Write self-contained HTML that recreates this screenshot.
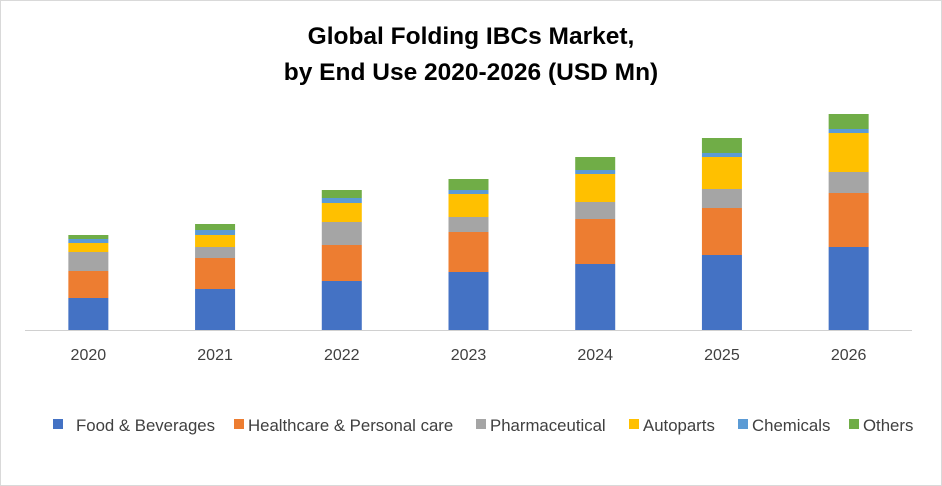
<!DOCTYPE html>
<html><head><meta charset="utf-8"><style>
html,body{margin:0;padding:0;background:#fff}
#wrap{position:relative;width:940px;height:484px;border:1px solid #d9d9d9;overflow:hidden;font-family:"Liberation Sans",sans-serif}
.title{position:absolute;left:0;width:940px;text-align:center;font-weight:bold;font-size:24.5px;color:#000}
</style></head><body>
<div id="wrap">
<div class="title" style="top:22px">Global Folding IBCs Market,</div>
<div class="title" style="top:58px">by End Use 2020-2026 (USD Mn)</div>
<svg id="svg" width="940" height="484" style="position:absolute;left:0;top:0"></svg>
</div>
<script>
const categories=["2020","2021","2022","2023","2024","2025","2026"];
const seriesNames=["Food & Beverages","Healthcare & Personal care","Pharmaceutical","Autoparts","Chemicals","Others"];
const food=[32,41,49,58,66,75,83];
const health=[27,31,36,40,45,47,54];
const pharma=[19,11,23,15,17,19,21];
const auto=[9,12,19,23,28,32,39];
const chem=[4,5,5,4,4,4,4];
const others=[4,6,8,11,13,15,15];
const series=[food,health,pharma,auto,chem,others];
const colors=["#4472c4","#ed7d31","#a5a5a5","#ffc000","#5b9bd5","#70ad47"];
const NS="http://www.w3.org/2000/svg";
const svg=document.getElementById('svg');
const baseY=329, x0=24, x1=911;
const band=(x1-x0)/categories.length;
const xC=i=>x0+band*(i+0.5);
const yS=v=>baseY-v;
const bw=40;
const axis=document.createElementNS(NS,'line');
axis.setAttribute('x1',x0);axis.setAttribute('x2',x1);axis.setAttribute('y1',baseY+0.5);axis.setAttribute('y2',baseY+0.5);
axis.setAttribute('stroke','#d0d0d0');axis.setAttribute('stroke-width','1');


svg.appendChild(axis);
categories.forEach((c,i)=>{
  let cum=0;
  series.forEach((s,k)=>{
    const r=document.createElementNS(NS,'rect');
    r.setAttribute('x',xC(i)-bw/2);r.setAttribute('width',bw);
    r.setAttribute('y',yS(cum+s[i]));r.setAttribute('height',s[i]);
    r.setAttribute('fill',colors[k]);
    
    
    svg.appendChild(r);
    cum+=s[i];
  });
  const t=document.createElementNS(NS,'text');
  t.setAttribute('x',xC(i));t.setAttribute('y',359);t.setAttribute('text-anchor','middle');
  t.setAttribute('font-size','16');t.setAttribute('fill','#404040');t.textContent=c;
  
  
  svg.appendChild(t);
});
const legX=[52,233,475,628,737,848];
seriesNames.forEach((n,k)=>{
  const g=document.createElementNS(NS,'g');
  
  
  const r=document.createElementNS(NS,'rect');
  r.setAttribute('x',legX[k]);r.setAttribute('y',418);r.setAttribute('width',10);r.setAttribute('height',10);r.setAttribute('fill',colors[k]);
  const t=document.createElementNS(NS,'text');
  t.setAttribute('x',legX[k]+(k==0?23:14));t.setAttribute('y',430);t.setAttribute('font-size','16.8');t.setAttribute('fill','#404040');t.textContent=n;
  g.appendChild(r);g.appendChild(t);svg.appendChild(g);
});
</script>
</body></html>
